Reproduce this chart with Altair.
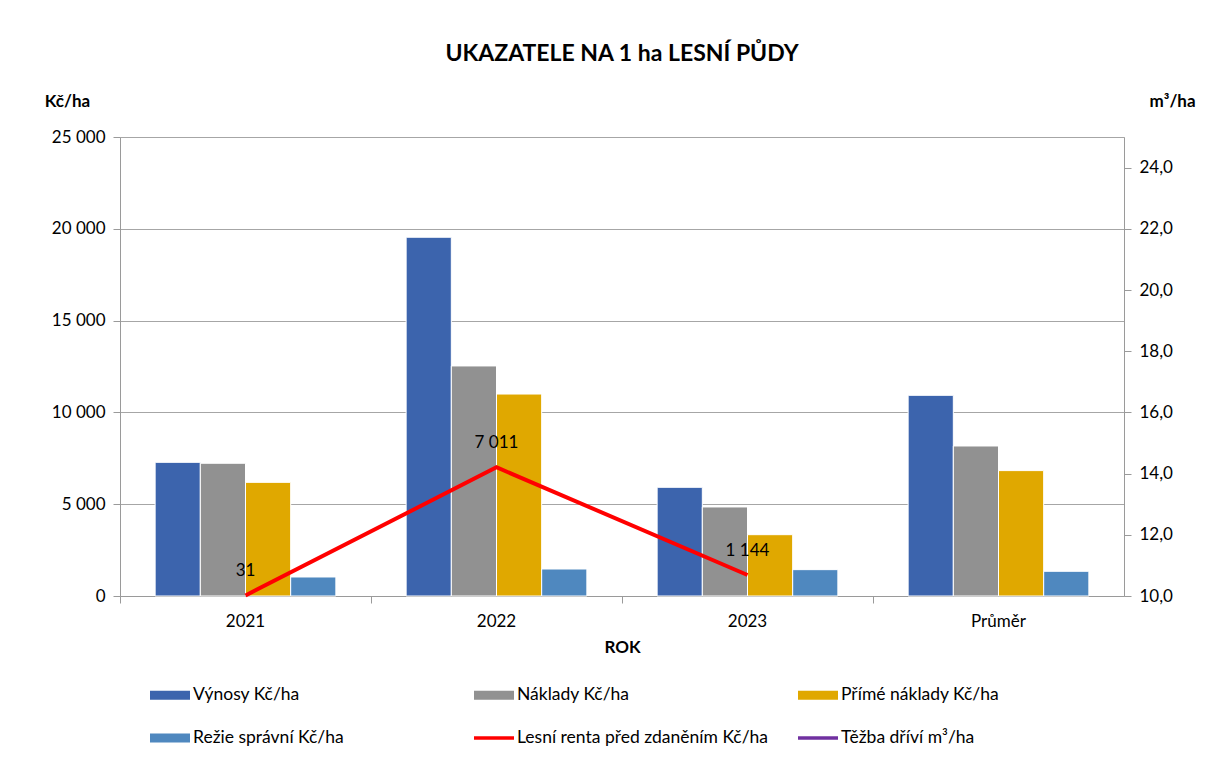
import altair as alt
import pandas as pd

# ---- data ----
categories = ["2021", "2022", "2023", "Průměr"]
vynosy = [7280, 19540, 5920, 10930]
naklady = [7230, 12530, 4850, 8170]
prime = [6190, 11000, 3340, 6830]
rezie = [1035, 1470, 1435, 1345]
renta = [31, 7011, 1144, None]
tezba = [None, None, None, None]

bar_series = ["Výnosy Kč/ha", "Náklady  Kč/ha", "Přímé náklady Kč/ha", "Režie správní Kč/ha"]
line_series = ["Lesní renta před zdaněním Kč/ha", "Těžba dříví m³/ha"]
all_series = bar_series + line_series
colors = ["#3C64AD", "#919191", "#E0A800", "#4F88BF", "#FF0000", "#7030A0"]

FONT = "Lato"
FS = 17
PAD_INNER = 0.28

rows = []
for vals, s in zip([vynosy, naklady, prime, rezie], bar_series):
    for c, v in zip(categories, vals):
        rows.append({"rok": c, "serie": s, "hodnota": v})
bar_df = pd.DataFrame(rows)

renta_df = pd.DataFrame({"rok": categories, "hodnota": renta, "serie": line_series[0]})
renta_df = renta_df.dropna()
renta_df["label"] = [f"{int(v):,}".replace(",", " ") for v in renta_df["hodnota"]]

tezba_df = pd.DataFrame({"rok": categories, "tezba": tezba, "serie": line_series[1]})

bar_shape = "M-1,-0.22L1,-0.22L1,0.22L-1,0.22Z"
line_shape = "M-1,-0.09L1,-0.09L1,0.09L-1,0.09Z"

shape_expr = (
    "indexof(['Lesní renta před zdaněním Kč/ha','Těžba dříví m³/ha'], datum.value) >= 0 ? '"
    + line_shape + "' : '" + bar_shape + "'"
)

legend = alt.Legend(
    title=None,
    orient="none",
    legendX=30,
    legendY=538,
    columns=3,
    direction="horizontal",
    gridAlign="all",
    columnPadding=29,
    rowPadding=14,
    symbolType=alt.ExprRef(expr=shape_expr),
    symbolSize=1600,
    symbolStrokeWidth=0,
    symbolFillColor=alt.ExprRef(expr="scale('color', datum.value)"),
    symbolOpacity=1,
    labelFont=FONT,
    labelFontSize=17.5,
    labelColor="#000000",
    labelOffset=3,
    labelLimit=400,
    values=all_series,
)

color = alt.Color(
    "serie:N",
    scale=alt.Scale(domain=all_series, range=colors),
    legend=legend,
)

x_axis = alt.Axis(
    title="ROK",
    labelAngle=0,
    labelFont=FONT,
    labelFontSize=FS,
    labelColor="#000000",
    labelPadding=10,
    tickSize=7,
    tickColor="#9a9a9a",
    domainColor="#9a9a9a",
    bandPosition=-(PAD_INNER / 2) / (1 - PAD_INNER),
    labelBound=False,
    titleFont=FONT,
    titleFontSize=FS,
    titleFontWeight="bold",
    titleColor="#000000",
    titlePadding=10,
    grid=False,
)

x_enc = alt.X(
    "rok:N",
    sort=categories,
    scale=alt.Scale(paddingInner=PAD_INNER, paddingOuter=PAD_INNER / 2),
    axis=x_axis,
)

left_axis = alt.Axis(
    title="Kč/ha",
    values=[0, 5000, 10000, 15000, 20000, 25000],
    labelExpr="replace(format(datum.value, ',d'), ',', ' ')",
    labelFont=FONT,
    labelFontSize=FS,
    labelColor="#000000",
    labelPadding=8,
    tickSize=7,
    tickColor="#9a9a9a",
    domainColor="#9a9a9a",
    gridColor="#a6a6a6",
    grid=True,
    titleAngle=0,
    titleX=-53,
    titleY=-36,
    titleAlign="center",
    titleBaseline="middle",
    titleFont=FONT,
    titleFontSize=FS,
    titleFontWeight="bold",
    titleColor="#000000",
)

y_left = alt.Y("hodnota:Q", scale=alt.Scale(domain=[0, 25000], nice=False), axis=left_axis)

bars = alt.Chart(bar_df).mark_bar(stroke="white", strokeWidth=1).encode(
    x=x_enc,
    xOffset=alt.XOffset("serie:N", sort=bar_series, scale=alt.Scale(paddingInner=0, paddingOuter=0)),
    y=y_left,
    color=color,
)

line = alt.Chart(renta_df).mark_line(strokeWidth=4).encode(
    x=x_enc,
    y=y_left,
    color=color,
)

labels = alt.Chart(renta_df).mark_text(
    dy=-24, font=FONT, fontSize=FS, color="#000000", baseline="middle", align="center"
).encode(
    x=x_enc,
    y=y_left,
    text="label:N",
)

tezba_line = alt.Chart(tezba_df).mark_line(strokeWidth=4).encode(
    x=x_enc,
    y=alt.Y(
        "tezba:Q",
        scale=alt.Scale(domain=[10, 25], nice=False),
        axis=alt.Axis(
            title="m³/ha",
            orient="right",
            values=[10, 12, 14, 16, 18, 20, 22, 24],
            labelExpr="replace(format(datum.value, '.1f'), '.', ',')",
            labelFont=FONT,
            labelFontSize=FS,
            labelColor="#000000",
            labelPadding=8,
            tickSize=7,
            tickColor="#9a9a9a",
            domainColor="#9a9a9a",
            grid=False,
            titleAngle=0,
            titleX=48,
            titleY=-36,
            titleAlign="center",
            titleBaseline="middle",
            titleFont=FONT,
            titleFontSize=FS,
            titleFontWeight="bold",
            titleColor="#000000",
        ),
    ),
    color=color,
)

chart = (
    alt.layer(alt.layer(bars, line, labels), tezba_line)
    .resolve_scale(y="independent")
    .properties(
        width=1004,
        height=459,
        autosize=alt.AutoSizeParams(type="none"),
        padding={"left": 112, "top": 129, "right": 78, "bottom": 159},
        title=alt.TitleParams(
            "UKAZATELE NA 1 ha LESNÍ PŮDY",
            font=FONT,
            fontSize=23,
            fontWeight="bold",
            color="#000000",
            anchor="middle",
            frame="group",
            offset=26,
        ),
    )
    .configure_view(strokeWidth=0, stroke="transparent")
    .configure(background="white")
)

chart.save("out.html", embed_options={"renderer": "svg", "actions": False})
